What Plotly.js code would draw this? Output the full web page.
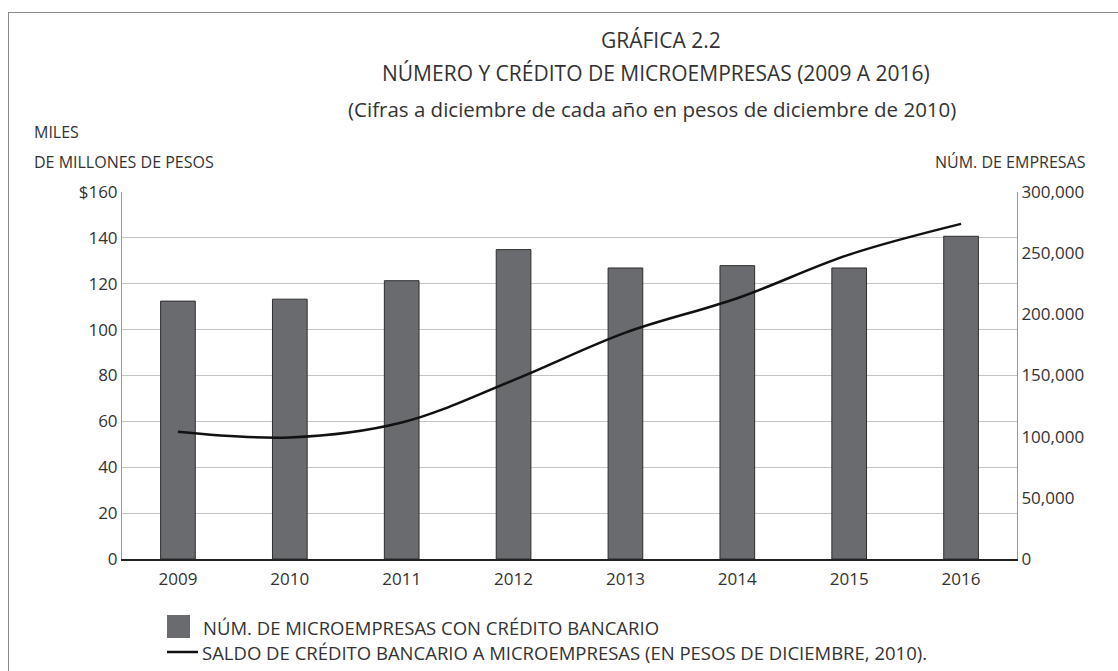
<!DOCTYPE html>
<html>
<head>
<meta charset="utf-8">
<script src="https://cdn.plot.ly/plotly-3.0.1.min.js"></script>
<style>
  body { margin: 0; background: #fff; }
  #graficPlotly { position: absolute; left: 0; top: 0; width: 1118px; height: 671px; }
  #marc { position: absolute; left: 8px; top: 12px; width: 1120px; height: 670px;
          border-left: 1.5px solid #8a8a8a; border-top: 1.5px solid #8a8a8a; pointer-events: none; }
</style>
</head>
<body>
<div id="graficPlotly"></div>
<div id="marc"></div>
<script>
// DADES DEL GRAFIC
var anys = ['2009', '2010', '2011', '2012', '2013', '2014', '2015', '2016'];
var numMicroempreses = [210800, 212400, 227500, 252900, 237900, 239800, 237900, 263800]; // eix dret
var saldoCredit = [55.5, 53, 59.5, 78, 98.7, 113.7, 132.7, 146.1]; // eix esquerre (miles de millones)

var ticksEsq = [0, 20, 40, 60, 80, 100, 120, 140, 160];
var textEsq = ['0', '20', '40', '60', '80', '100', '120', '140', '$160'];
var ticksDret = [0, 50000, 100000, 150000, 200000, 250000, 300000];
var textDret = ['0', '50,000', '100,000', '150,000', '200.000', '250,000', '300,000'];

var nomBarres = 'NÚM. DE MICROEMPRESAS CON CRÉDITO BANCARIO';
var nomLinia = 'SALDO DE CRÉDITO BANCARIO A MICROEMPRESAS (EN PESOS DE DICIEMBRE, 2010).';

var fontText = '"Open Sans", Lato, sans-serif';
var colorBarra = '#6a6b6f';

// barres a l'eix principal (dret), linia a l'eix superposat (esquerre) perque quedi per sobre
var barres = {
    x: anys, y: numMicroempreses, type: 'bar', yaxis: 'y',
    marker: {color: colorBarra, line: {color: '#2e2e2e', width: 1}},
    name: nomBarres
};
var linia = {
    x: anys, y: saldoCredit, type: 'scatter', mode: 'lines', yaxis: 'y2',
    line: {color: '#111', width: 2.5, shape: 'spline', smoothing: 1},
    name: nomLinia
};

// conversio de pixels de pantalla a coordenades paper
var ampladaPlot = 1118 - 122 - 101;
var alturaPlot = 671 - 192 - 112;
function px2x(px) { return (px - 122) / ampladaPlot; }
function px2y(py) { return (559 - py) / alturaPlot; }

function etiqueta(text, px, py, anchor, mida) {
    return {text: text, xref: 'paper', yref: 'paper', x: px2x(px), y: px2y(py),
            showarrow: false, xanchor: anchor, yanchor: 'middle',
            font: {size: mida, color: '#333', family: fontText}};
}

var layout = {
    width: 1118, height: 671,
    margin: {l: 122, r: 101, t: 192, b: 112},
    paper_bgcolor: 'rgba(0,0,0,0)',
    plot_bgcolor: 'white',
    font: {family: fontText, color: '#333', size: 15},
    bargap: 0.69,
    showlegend: false,
    xaxis: {
        type: 'category', showline: true, linecolor: '#222', linewidth: 1.5,
        showgrid: false, ticks: '', ticklabelstandoff: 4,
        tickfont: {size: 17, color: '#333'}
    },
    yaxis: {
        side: 'right', range: [0, 300000], tickvals: ticksDret, ticktext: textDret,
        showgrid: false, showline: true, linecolor: '#9a9a9a', zeroline: false, ticks: '',
        tickfont: {size: 17, color: '#333'}
    },
    yaxis2: {
        side: 'left', overlaying: 'y', range: [0, 160], tickvals: ticksEsq, ticktext: textEsq,
        showgrid: true, gridcolor: '#c4c4c4', gridwidth: 1,
        showline: true, linecolor: '#9a9a9a', zeroline: false, ticks: '',
        tickfont: {size: 17, color: '#333'}
    },
    annotations: [
        etiqueta('GRÁFICA 2.2', 661, 40, 'center', 21),
        etiqueta('NÚMERO Y CRÉDITO DE MICROEMPRESAS (2009 A 2016)', 656, 73, 'center', 21),
        etiqueta('(Cifras a diciembre de cada año en pesos de diciembre de 2010)', 652, 109, 'center', 20.5),
        etiqueta('MILES', 32, 132, 'left', 16),
        etiqueta('DE MILLONES DE PESOS', 32, 162, 'left', 16),
        etiqueta('NÚM. DE EMPRESAS', 1088, 162, 'right', 16),
        // llegenda
        etiqueta(nomBarres, 201, 627, 'left', 18.5),
        etiqueta(nomLinia, 200, 652, 'left', 18.5)
    ],
    shapes: [
        {type: 'rect', xref: 'paper', yref: 'paper', x0: px2x(167), x1: px2x(190), y0: px2y(615), y1: px2y(638),
         fillcolor: colorBarra, line: {width: 0}},
        {type: 'line', xref: 'paper', yref: 'paper', x0: px2x(167), x1: px2x(198), y0: px2y(652), y1: px2y(652),
         line: {color: '#111', width: 2.5}}
    ]
};

Plotly.newPlot('graficPlotly', [barres, linia], layout, {displayModeBar: false});
</script>
</body>
</html>
